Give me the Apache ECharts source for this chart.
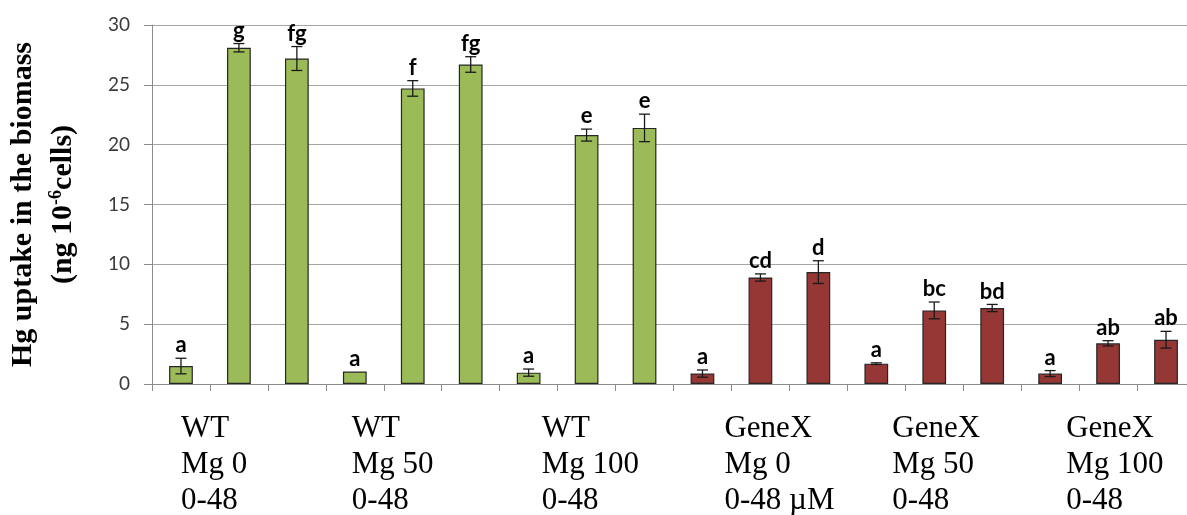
<!DOCTYPE html>
<html><head><meta charset="utf-8">
<script src="https://cdn.jsdelivr.net/npm/echarts@6/dist/echarts.min.js"></script>
<style>html,body{margin:0;padding:0;background:#fff}#c{width:1187px;height:515px}</style>
</head><body><div id="c"></div>
<script>
// ---- data ----
const categories = ['WT Mg0 1','WT Mg0 2','WT Mg0 3','WT Mg50 1','WT Mg50 2','WT Mg50 3','WT Mg100 1','WT Mg100 2','WT Mg100 3',
  'GeneX Mg0 1','GeneX Mg0 2','GeneX Mg0 3','GeneX Mg50 1','GeneX Mg50 2','GeneX Mg50 3','GeneX Mg100 1','GeneX Mg100 2','GeneX Mg100 3'];
const values = [1.5, 28.1, 27.2, 1.05, 24.7, 26.7, 0.95, 20.8, 21.4, 0.87, 8.9, 9.35, 1.7, 6.15, 6.35, 0.87, 3.4, 3.7];
const errors = [0.65, 0.35, 1.0, 0, 0.65, 0.65, 0.3, 0.5, 1.15, 0.3, 0.3, 0.95, 0.07, 0.7, 0.3, 0.25, 0.22, 0.7];
const letters = ['a','g','fg','a','f','fg','a','e','e','a','cd','d','a','bc','bd','a','ab','ab'];
const groupLabels = [
  ['WT','Mg 0','0-48'],
  ['WT','Mg 50','0-48'],
  ['WT','Mg 100','0-48'],
  ['GeneX','Mg 0','0-48 µM'],
  ['GeneX','Mg 50','0-48'],
  ['GeneX','Mg 100','0-48']
];
const yTicks = {min: 0, max: 30, interval: 5};

// ---- styles ----
const GREEN = '#9BBB59', RED = '#953735';
const labelShift = [0, -3, 13, 22, 16, 16];
const rich = {};
labelShift.forEach((s, g) => {
  rich['l' + g] = {fontFamily: 'Liberation Serif', fontSize: 31, lineHeight: 36, color: '#000', align: 'left', padding: [0, 0, 0, 150 + s]};
});

const chart = echarts.init(document.getElementById('c'));
chart.setOption({
  animation: false,
  backgroundColor: '#fff',
  grid: {left: 152, right: -8, top: 25, bottom: 131, outerBoundsMode: 'none', containLabel: false},
  xAxis: {
    type: 'category', data: categories,
    axisLine: {lineStyle: {color: '#8c8c8c', width: 1}},
    axisTick: {show: true, length: 7, interval: 0, lineStyle: {color: '#8c8c8c'}},
    axisLabel: {
      interval: 0, margin: 27, width: 300, align: 'center', verticalAlign: 'top',
      formatter: (v, idx) => {
        if (idx % 3 !== 0) return '';
        const g = idx / 3;
        return groupLabels[g].map(t => '{l' + g + '|' + t + '}').join('\n');
      },
      rich: rich
    }
  },
  yAxis: {
    type: 'value', min: yTicks.min, max: yTicks.max, interval: yTicks.interval,
    axisLine: {show: true, lineStyle: {color: '#8c8c8c'}},
    axisTick: {show: true, length: 8, lineStyle: {color: '#8c8c8c'}},
    splitLine: {lineStyle: {color: '#a6a6a6', width: 1}},
    axisLabel: {fontFamily: 'Lato', fontSize: 19, color: '#3a3a3a', margin: 22},
    name: '{t|Hg uptake in the biomass}\n{t|(ng 10}{s|-6}{t|cells)}',
    nameLocation: 'middle', nameGap: 69,
    nameTextStyle: {
      fontFamily: 'Liberation Serif', fontWeight: 'bold', fontSize: 30, lineHeight: 40, color: '#000',
      rich: {
        t: {fontFamily: 'Liberation Serif', fontWeight: 'bold', fontSize: 30, lineHeight: 40, color: '#000'},
        s: {fontFamily: 'Liberation Serif', fontWeight: 'bold', fontSize: 18, lineHeight: 40, verticalAlign: 'top', padding: [4, 0, 0, 0], color: '#000'}
      }
    }
  },
  series: [
    {
      type: 'bar', data: values, barWidth: '41%',
      itemStyle: {
        color: p => p.dataIndex < 9 ? GREEN : RED,
        borderColor: '#262626', borderWidth: 1.2
      },
      z: 2
    },
    {
      type: 'custom', z: 5,
      data: values.map((v, i) => [i, v, errors[i]]),
      renderItem: (params, api) => {
        const i = api.value(0), v = api.value(1), e = api.value(2);
        const hi = api.coord([i, v + e]), lo = api.coord([i, v - e]);
        const cap = 5.5;
        const st = {stroke: '#1a1a1a', lineWidth: 1.3};
        const children = [];
        if (e > 0) {
          children.push({type: 'line', shape: {x1: hi[0], y1: hi[1], x2: lo[0], y2: lo[1]}, style: st});
          children.push({type: 'line', shape: {x1: hi[0] - cap, y1: hi[1], x2: hi[0] + cap, y2: hi[1]}, style: st});
          children.push({type: 'line', shape: {x1: lo[0] - cap, y1: lo[1], x2: lo[0] + cap, y2: lo[1]}, style: st});
        }
        children.push({type: 'text', style: {
          text: letters[i], x: hi[0], y: hi[1] - 2, align: 'center', verticalAlign: 'bottom',
          font: 'bold 22px Lato', fill: '#000'
        }});
        return {type: 'group', children};
      }
    }
  ]
});
</script>
</body></html>
